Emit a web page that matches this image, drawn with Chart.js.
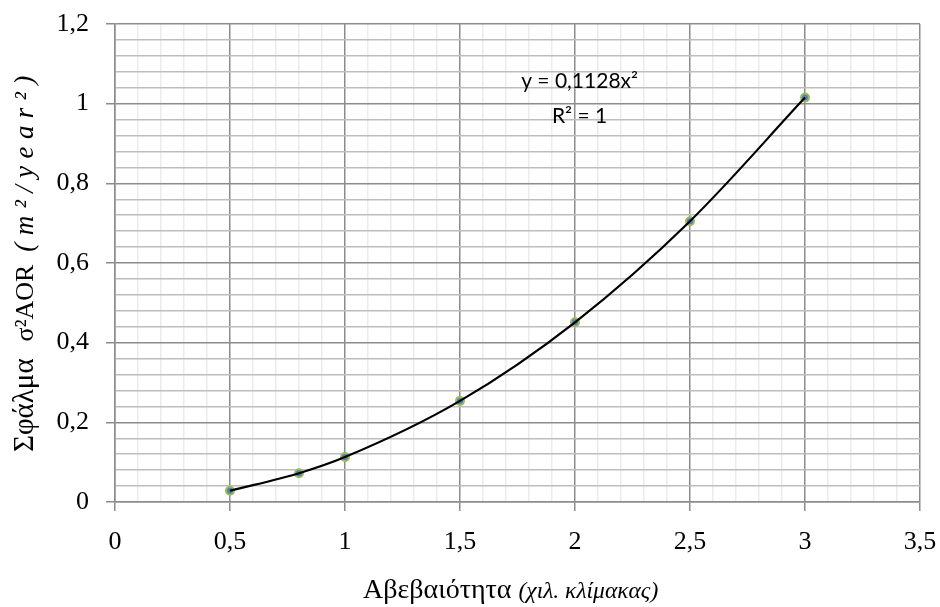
<!DOCTYPE html>
<html>
<head>
<meta charset="utf-8">
<script src="https://cdn.jsdelivr.net/npm/chart.js@4/dist/chart.umd.min.js"></script>
<style>
  html, body { margin: 0; padding: 0; background: #ffffff; }
  #wrap { width: 940px; height: 607px; position: relative; }
</style>
</head>
<body>
<div id="wrap"><canvas id="chart" width="940" height="607"></canvas></div>
<script>
// Measured error variance against scale uncertainty
const uncertainty   = [0.5, 0.8, 1.0, 1.5, 2.0, 2.5, 3.0];
const errorVariance = [0.0282, 0.0722, 0.1128, 0.2538, 0.4512, 0.705, 1.0152];

// Axis ranges, labelled (major) steps and unlabelled (minor) steps
const xRange = [0, 3.5];
const yRange = [0, 1.2];
const xMajorStep = 0.5, xMinorStep = 0.1;
const yMajorStep = 0.2, yMinorStep = 0.04;

// Trendline annotation
const fitLines = ['y = 0,1128x²', 'R² = 1'];

// Axis title texts, split into upright / italic runs
const xTitleTexts = ['Αβεβαιότητα', '(χιλ. κλίμακας)'];
const yTitleTexts = ['Σφάλμα', 'σ²AOR', '(m²/year²)'];

const SERIF = '"Liberation Serif", "Times New Roman", serif';

function stepValues(range, step) {
  const out = [];
  const n = Math.round((range[1] - range[0]) / step);
  for (let i = 0; i <= n; i++) out.push(+(range[0] + i * step).toFixed(4));
  return out;
}
function isMajor(v, step) {
  const r = v / step;
  return Math.abs(r - Math.round(r)) < 1e-6;
}
function fmt(v) {
  return String(+v.toFixed(2)).replace('.', ',');
}

// Draws one run of text; if a length is given, glyphs are spread over it.
// Returns the advance.
function drawRun(ctx, run, x0, baseline) {
  ctx.font = (run.italic ? 'italic ' : '') + run.size + 'px ' + SERIF;
  if (!run.width) {
    ctx.fillText(run.text, x0, baseline);
    return ctx.measureText(run.text).width;
  }
  const chars = Array.from(run.text);
  const natural = ctx.measureText(run.text).width;
  const gap = chars.length > 1 ? (run.width - natural) / (chars.length - 1) : 0;
  let x = x0;
  for (const ch of chars) {
    ctx.fillText(ch, x, baseline);
    x += ctx.measureText(ch).width + gap;
  }
  return run.width;
}

const annotations = {
  id: 'annotations',
  afterDraw(chart) {
    const { ctx, scales } = chart;
    ctx.save();
    ctx.fillStyle = '#000000';
    ctx.textAlign = 'left';
    ctx.textBaseline = 'alphabetic';

    // x axis title
    let x = 363;
    x += drawRun(ctx, { text: xTitleTexts[0], italic: false, size: 28 }, x, 598);
    x += 7;
    drawRun(ctx, { text: xTitleTexts[1], italic: true, size: 23.5 }, x, 598);

    // y axis title, read bottom to top
    ctx.save();
    ctx.translate(33, 452);
    ctx.rotate(-Math.PI / 2);
    let p = 0;
    p += drawRun(ctx, { text: yTitleTexts[0], italic: false, size: 29 }, p, 0);
    p += 17;
    p += drawRun(ctx, { text: yTitleTexts[1], italic: false, size: 26 }, p, 0);
    p += 13;
    drawRun(ctx, { text: yTitleTexts[2], italic: true, size: 27, width: 176 }, p, 0);
    ctx.restore();

    // trendline equation
    ctx.font = '21px Lato, "Open Sans", sans-serif';
    ctx.textAlign = 'center';
    const ex = scales.x.getPixelForValue(2.02);
    ctx.fillText(fitLines[0], ex, 88);
    ctx.fillText(fitLines[1], ex, 123);
    ctx.restore();
  }
};

const gridMajor = '#8c8c8c';
const gridMinorY = '#bdbdbd';
const gridMinorX = '#ececec';

function noEdgePadding(axis) {
  axis.paddingLeft = 0; axis.paddingRight = 0;
  axis.paddingTop = 0; axis.paddingBottom = 0;
}

new Chart(document.getElementById('chart'), {
  type: 'scatter',
  data: {
    datasets: [
      {
        label: 'Trend',
        data: uncertainty.map((x, i) => ({ x, y: errorVariance[i] })),
        showLine: true,
        borderColor: '#000000',
        borderWidth: 2.2,
        pointRadius: 0,
        pointHoverRadius: 0,
        cubicInterpolationMode: 'monotone',
        fill: false
      },
      {
        label: 'σ²AOR',
        data: uncertainty.map((x, i) => ({ x, y: errorVariance[i] })),
        showLine: false,
        pointRadius: 4,
        pointBackgroundColor: '#4f81bd',
        pointBorderColor: '#9bbb59',
        pointBorderWidth: 2
      }
    ]
  },
  options: {
    responsive: false,
    animation: false,
    events: [],
    layout: { padding: { left: 0, right: 20, top: 24, bottom: 0 } },
    plugins: { legend: { display: false }, tooltip: { enabled: false } },
    scales: {
      x: {
        type: 'linear',
        min: xRange[0],
        max: xRange[1],
        afterBuildTicks: axis => { axis.ticks = stepValues(xRange, xMinorStep).map(v => ({ value: v })); },
        afterFit: axis => { axis.height = 105; noEdgePadding(axis); },
        ticks: {
          autoSkip: false,
          maxRotation: 0,
          padding: 16,
          color: '#000000',
          font: { family: SERIF, size: 26 },
          callback: v => isMajor(v, xMajorStep) ? fmt(v) : ''
        },
        grid: {
          color: c => (c.tick && isMajor(c.tick.value, xMajorStep)) ? gridMajor : gridMinorX,
          tickColor: c => (c.tick && isMajor(c.tick.value, xMajorStep)) ? gridMajor : 'rgba(0,0,0,0)',
          lineWidth: 1.5,
          tickLength: 9
        },
        border: { color: gridMajor, width: 1.5 }
      },
      y: {
        type: 'linear',
        min: yRange[0],
        max: yRange[1],
        afterBuildTicks: axis => { axis.ticks = stepValues(yRange, yMinorStep).map(v => ({ value: v })); },
        afterFit: axis => { axis.width = 115; noEdgePadding(axis); },
        ticks: {
          autoSkip: false,
          padding: 17,
          color: '#000000',
          font: { family: SERIF, size: 26 },
          callback: v => isMajor(v, yMajorStep) ? fmt(v) : ''
        },
        grid: {
          color: c => (c.tick && isMajor(c.tick.value, yMajorStep)) ? gridMajor : gridMinorY,
          tickColor: c => (c.tick && isMajor(c.tick.value, yMajorStep)) ? gridMajor : 'rgba(0,0,0,0)',
          lineWidth: 1.5,
          tickLength: 9
        },
        border: { color: gridMajor, width: 1.5 }
      }
    }
  },
  plugins: [annotations]
});
</script>
</body>
</html>
